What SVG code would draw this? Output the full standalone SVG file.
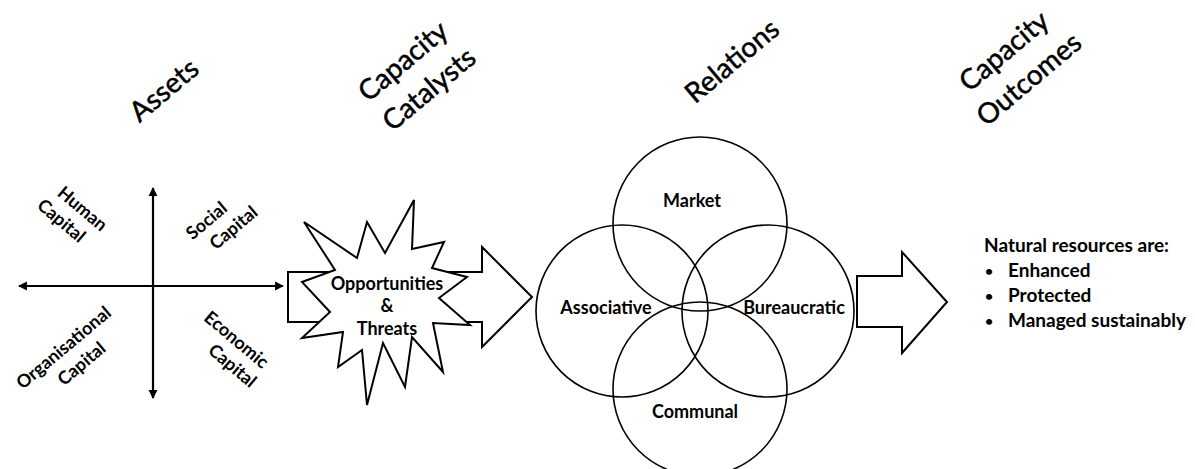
<svg xmlns="http://www.w3.org/2000/svg" width="1195" height="469" viewBox="0 0 1195 469">
<style>
.h{font-family:Lato,"Liberation Sans",sans-serif;font-size:28px;fill:#000;stroke:#000;stroke-width:0.5;text-anchor:middle;dominant-baseline:central}
.b{font-family:Lato,"Liberation Sans",sans-serif;font-size:18px;font-weight:bold;fill:#000}
.o{font-size:19px}
.dot{font-size:14px}
.c{text-anchor:middle;dominant-baseline:central}
.shape{fill:#fff;stroke:#000;stroke-width:2;stroke-linejoin:miter}
.ring{fill:none;stroke:#000;stroke-width:1.6}
.axis{stroke:#000;stroke-width:2.2;fill:none}
</style>
<defs>
<marker id="ah" viewBox="0 0 10 10" refX="9" refY="5" markerWidth="4" markerHeight="4.5" orient="auto-start-reverse" markerUnits="strokeWidth">
<path d="M0,0 L10,5 L0,10 Z" fill="#000"/>
</marker>
</defs>
<rect width="1195" height="469" fill="#fff"/>

<g id="headers">
<text class="h" transform="translate(163,89) rotate(-40)">Assets</text>
<text class="h" transform="translate(402,60) rotate(-40)">Capacity</text>
<text class="h" transform="translate(428,88) rotate(-40)">Catalysts</text>
<text class="h" transform="translate(731,60) rotate(-40)">Relations</text>
<text class="h" transform="translate(1003,50) rotate(-40)">Capacity</text>
<text class="h" transform="translate(1028,78) rotate(-40)">Outcomes</text>
</g>

<g id="connectors">
<line class="axis" x1="153" y1="398" x2="153" y2="188" marker-start="url(#ah)" marker-end="url(#ah)"/>
<line class="axis" x1="19" y1="286" x2="283" y2="286" marker-start="url(#ah)" marker-end="url(#ah)"/>
<polygon id="arrow1" class="shape" points="288,272 482,272 482,247 532,297 482,347 482,322 288,322"/>
<polygon id="arrow2" class="shape" points="857,276 902,276 902,252 947,302 902,353 902,327 857,327"/>
</g>

<g id="assets-labels">
<text class="b c" transform="translate(83,208) rotate(40)">Human</text>
<text class="b c" transform="translate(62,220) rotate(40)">Capital</text>
<text class="b c" transform="translate(206,220) rotate(-40)">Social</text>
<text class="b c" transform="translate(233,227) rotate(-40)">Capital</text>
<text class="b c" transform="translate(63,347) rotate(-40)">Organisational</text>
<text class="b c" transform="translate(81,363) rotate(-40)">Capital</text>
<text class="b c" transform="translate(237,339) rotate(40)">Economic</text>
<text class="b c" transform="translate(233,365) rotate(40)">Capital</text>
</g>

<g id="catalyst">
<polygon class="shape" points="414,200 412,249 444,242 432,268 467,277 439,298 470,325 433,323 443,372 412,337 405,387 383,343 367,405 362,350 338,367 343,332 302,338 330,312 302,282 335,270 304,222 357,258 367,222 385,253"/>
<text class="b c" x="387" y="283">Opportunities</text>
<text class="b c" x="387" y="305">&amp;</text>
<text class="b c" x="387" y="328">Threats</text>
</g>

<g id="market"><circle class="ring" cx="700" cy="224" r="87"/><text class="b c" x="692" y="200">Market</text></g>
<g id="associative"><circle class="ring" cx="622" cy="311" r="86"/><text class="b c" x="606" y="307">Associative</text></g>
<g id="bureaucratic"><circle class="ring" cx="768" cy="311" r="86"/><text class="b c" x="794" y="307">Bureaucratic</text></g>
<g id="communal"><circle class="ring" cx="700" cy="389" r="87"/><text class="b c" x="695" y="411">Communal</text></g>

<g id="outcomes">
<text class="b o" x="984" y="252">Natural resources are:</text>
<text class="b dot" x="985" y="276">•</text><text class="b o" x="1008" y="277">Enhanced</text>
<text class="b dot" x="985" y="301">•</text><text class="b o" x="1008" y="302">Protected</text>
<text class="b dot" x="985" y="326">•</text><text class="b o" x="1008" y="327">Managed sustainably</text>
</g>
</svg>
